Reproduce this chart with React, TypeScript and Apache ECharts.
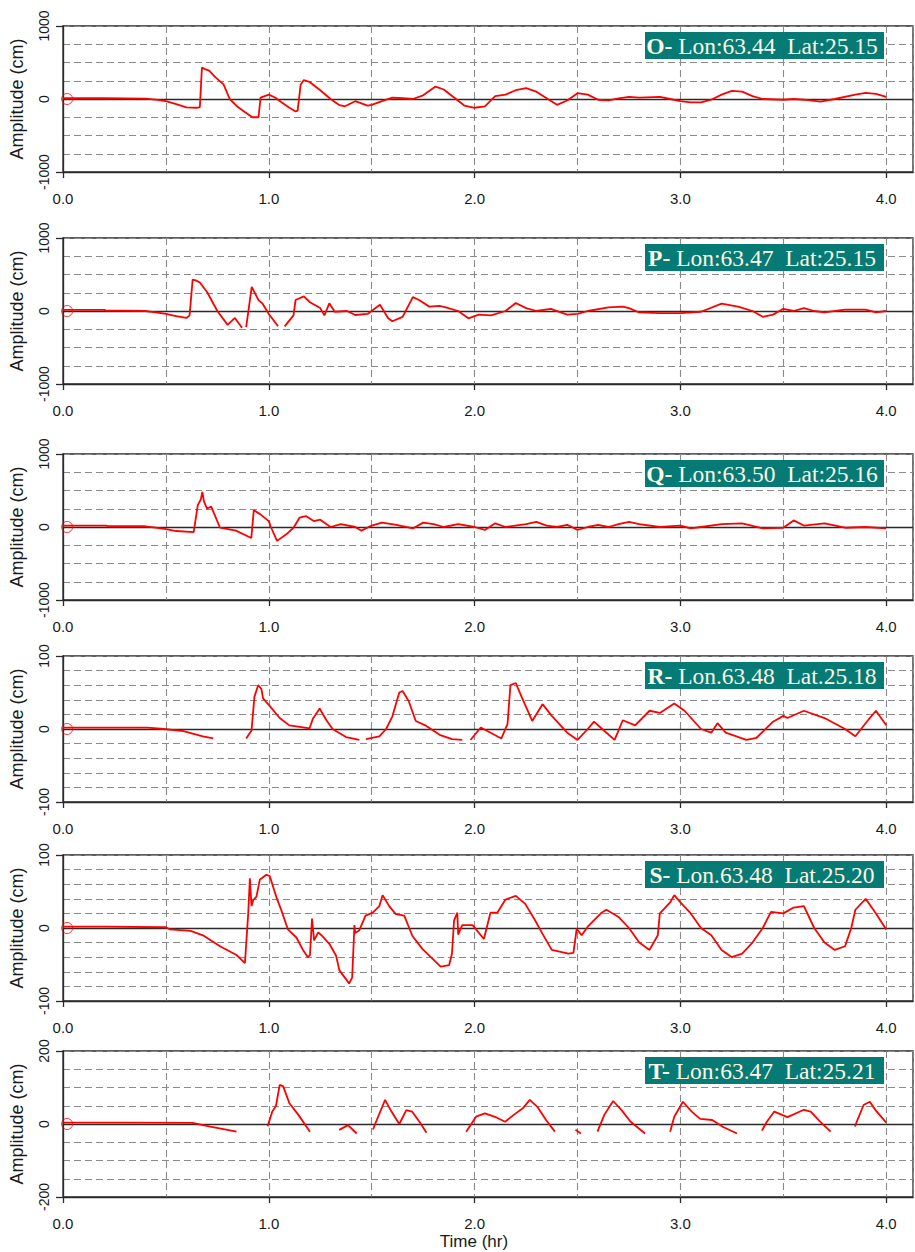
import React, { useEffect, useRef } from "react";
import * as echarts from "echarts";

// ---------- DATA ----------
const X_MIN = 0;
const X_MAX = 4.13;
const X_TICKS = [0, 1, 2, 3, 4];
const STATION_IDS = ["O-", "P-", "Q-", "R-", "S-", "T-"];
const STATION_TEXT = [
  " Lon:63.44  Lat:25.15",
  " Lon:63.47  Lat:25.15",
  " Lon:63.50  Lat:25.16",
  " Lon.63.48  Lat.25.18",
  " Lon.63.48  Lat.25.20",
  " Lon:63.47  Lat:25.21",
];
const Y_LIMITS = [1000, 1000, 1000, 100, 100, 200];
const Y_STEPS = [250, 250, 250, 20, 20, 50];
const START_MARK: [number, number] = [0.02, 0];

type Pt = [number, number];

const O_SEGMENTS: Pt[][] = [
  [
    [0, 10], [0.1, 12], [0.2, 10], [0.3, 8], [0.4, 5], [0.45, -10], [0.5, -30], [0.55, -70], [0.6, -115],
    [0.65, -120], [0.665, -110], [0.675, 430], [0.69, 410], [0.71, 390], [0.74, 300], [0.78, 200], [0.81, 0],
    [0.85, -110], [0.88, -170], [0.92, -250], [0.95, -250], [0.96, 20], [0.97, 30], [1.0, 60], [1.03, 20],
    [1.06, -40], [1.1, -120], [1.13, -170], [1.14, -160], [1.155, 200], [1.17, 260], [1.2, 230], [1.25, 120],
    [1.3, 0], [1.34, -80], [1.37, -100], [1.42, -30], [1.45, -60], [1.48, -90], [1.5, -80], [1.55, -30],
    [1.6, 20], [1.65, 10], [1.7, 0], [1.75, 50], [1.81, 170], [1.85, 130], [1.9, 20], [1.95, -90], [2.0, -120],
    [2.05, -100], [2.1, 40], [2.15, 60], [2.2, 120], [2.25, 150], [2.3, 100], [2.35, 10], [2.4, -80],
    [2.45, -20], [2.5, 80], [2.55, 60], [2.6, -10], [2.65, -20], [2.7, 10], [2.75, 30], [2.8, 20], [2.9, 30],
    [2.95, 0], [3.0, -30], [3.05, -45], [3.1, -45], [3.15, -10], [3.2, 60], [3.25, 110], [3.3, 100],
    [3.35, 40], [3.4, 0], [3.5, -10], [3.55, 0], [3.6, -10], [3.68, -35], [3.75, 0], [3.85, 60], [3.9, 85],
    [3.95, 70], [4.0, 30],
  ],
];

const P_SEGMENTS: Pt[][] = [
  [
    [0, 15], [0.1, 15], [0.2, 15], [0.21, 5], [0.3, 5], [0.4, 0], [0.45, -20], [0.5, -40], [0.55, -70],
    [0.6, -95], [0.615, -60], [0.63, 430], [0.645, 420], [0.665, 390], [0.7, 260], [0.75, 0], [0.8, -190],
    [0.835, -95], [0.87, -230],
  ],
  [[0.89, -220], [0.917, 330], [0.95, 150], [0.97, 100], [1.0, -40], [1.045, -210]],
  [
    [1.077, -210], [1.12, -60], [1.13, 150], [1.17, 200], [1.2, 120], [1.25, 40], [1.27, -60], [1.294, 105],
    [1.32, -10], [1.38, 0], [1.42, -55], [1.48, -40], [1.54, 85], [1.58, -100], [1.6, -140], [1.65, -80],
    [1.7, 190], [1.73, 150], [1.78, 60], [1.83, 70], [1.86, 50], [1.92, 0], [1.97, -100], [2.02, -50],
    [2.08, -60], [2.15, 0], [2.2, 110], [2.25, 40], [2.3, 0], [2.37, 30], [2.45, -50], [2.5, -40], [2.55, 0],
    [2.65, 50], [2.72, 60], [2.75, 40], [2.8, -20], [2.9, -30], [3.0, -30], [3.1, -10], [3.2, 100],
    [3.28, 60], [3.35, 0], [3.4, -80], [3.45, -50], [3.5, 30], [3.55, 0], [3.6, 40], [3.65, 0], [3.7, -20],
    [3.8, 20], [3.9, 20], [3.95, -20], [4.0, 0],
  ],
];

const Q_SEGMENTS: Pt[][] = [
  [
    [0, 20], [0.1, 20], [0.21, 20], [0.22, 10], [0.4, 10], [0.45, -10], [0.5, -30], [0.55, -55], [0.635, -70],
    [0.655, 300], [0.67, 380], [0.677, 480], [0.685, 350], [0.7, 250], [0.72, 280], [0.763, -10], [0.84, -50],
    [0.915, -150], [0.927, 230], [0.956, 180], [1.0, 80], [1.01, 0], [1.04, -190], [1.085, -100], [1.12, -10],
    [1.15, 130], [1.18, 150], [1.22, 80], [1.25, 100], [1.3, 0], [1.35, 40], [1.42, 0], [1.45, -50], [1.5, 20],
    [1.55, 60], [1.62, 30], [1.7, -20], [1.75, 60], [1.8, 40], [1.85, 0], [1.92, 40], [2.0, 0], [2.05, -40],
    [2.1, 50], [2.15, 0], [2.25, 40], [2.3, 70], [2.35, 20], [2.4, 0], [2.45, 30], [2.5, -40], [2.55, 0],
    [2.6, 30], [2.65, 0], [2.7, 40], [2.75, 70], [2.8, 40], [2.9, 0], [3.0, 20], [3.05, -20], [3.1, 0],
    [3.2, 40], [3.3, 50], [3.4, -20], [3.5, -10], [3.55, 90], [3.6, 20], [3.7, 50], [3.8, -10], [3.9, 0],
    [4.0, -20],
  ],
];

const R_SEGMENTS: Pt[][] = [
  [[0, 2], [0.2, 2], [0.41, 2], [0.49, 0], [0.585, -3], [0.68, -10], [0.73, -13]],
  [
    [0.89, -13], [0.916, -2], [0.93, 44], [0.948, 60], [0.964, 55], [0.972, 42], [1.0, 33], [1.053, 15],
    [1.1, 5], [1.15, 3], [1.198, 1], [1.214, 14], [1.247, 28], [1.28, 12], [1.31, 0], [1.375, -11], [1.44, -15],
  ],
  [
    [1.472, -14], [1.537, -10], [1.57, 0], [1.6, 17], [1.634, 50], [1.65, 52], [1.68, 38], [1.714, 11],
    [1.76, 5], [1.83, -8], [1.89, -14], [1.94, -15],
  ],
  [
    [1.98, -15], [2.03, 2], [2.13, -13], [2.16, 7], [2.174, 60], [2.2, 63], [2.23, 43], [2.28, 11], [2.33, 34],
    [2.375, 18], [2.45, -5], [2.5, -15], [2.55, 0], [2.58, 10], [2.62, 0], [2.68, -15], [2.72, 12], [2.78, 5],
    [2.85, 25], [2.9, 22], [2.97, 35], [3.02, 25], [3.1, 0], [3.15, -5], [3.18, 8], [3.22, -5], [3.32, -15],
    [3.37, -12], [3.45, 10], [3.5, 18], [3.52, 15], [3.6, 25], [3.7, 15], [3.8, 0], [3.85, -10], [3.92, 15],
    [3.95, 25], [4.0, 5],
  ],
];

const S_SEGMENTS: Pt[][] = [
  [
    [0, 2], [0.2, 2], [0.5, 1], [0.52, -2], [0.62, -4], [0.68, -10], [0.763, -25], [0.843, -37], [0.884, -48],
    [0.9, 20], [0.908, 68], [0.916, 30], [0.924, 38], [0.94, 43], [0.956, 66], [0.988, 73], [1.005, 71],
    [1.037, 42], [1.06, 25], [1.093, -2], [1.134, -13], [1.166, -30], [1.19, -40], [1.2, -37], [1.21, 13],
    [1.22, -17], [1.24, -6], [1.26, -11], [1.295, -22], [1.327, -38], [1.343, -58], [1.375, -70], [1.39, -76],
    [1.405, -68], [1.416, 4], [1.42, -7], [1.44, -3], [1.47, 17], [1.505, 21], [1.537, 30], [1.553, 45],
    [1.585, 30], [1.617, 19], [1.658, 17], [1.698, -11], [1.747, -29], [1.795, -42], [1.835, -53], [1.876, -51],
    [1.89, -35], [1.9, 10], [1.916, 21], [1.92, -9], [1.94, 4], [1.99, 4], [2.045, -15], [2.077, 21], [2.11, 21],
    [2.15, 39], [2.2, 44], [2.246, 33], [2.295, 10], [2.33, -8], [2.375, -30], [2.456, -35], [2.48, -34],
    [2.496, -1], [2.52, -10], [2.553, 3], [2.617, 21], [2.64, 25], [2.7, 15], [2.75, 0], [2.8, -20], [2.85, -30],
    [2.89, -10], [2.9, 20], [2.95, 35], [2.97, 45], [3.0, 35], [3.05, 20], [3.1, 0], [3.15, -10], [3.2, -30],
    [3.25, -40], [3.3, -35], [3.35, -20], [3.4, 0], [3.44, 22], [3.5, 20], [3.55, 28], [3.6, 30], [3.65, 0],
    [3.7, -20], [3.75, -30], [3.8, -25], [3.83, 0], [3.85, 25], [3.9, 40], [3.95, 20], [4.0, -2],
  ],
];

const T_SEGMENTS: Pt[][] = [
  [[0, 4], [0.3, 4], [0.63, 3], [0.715, -7], [0.78, -14], [0.843, -21]],
  [[0.994, -6], [1.017, 34], [1.035, 50], [1.053, 107], [1.07, 103], [1.1, 57], [1.144, 25], [1.2, -21]],
  [[1.342, -16], [1.385, -3], [1.427, -26]],
  [
    [1.506, -15], [1.526, 13], [1.565, 66], [1.596, 34], [1.634, 0], [1.668, 38], [1.696, 34], [1.737, 2],
    [1.766, -24],
  ],
  [
    [1.959, -21], [2.007, 20], [2.05, 29], [2.106, 18], [2.148, 6], [2.19, 25], [2.234, 43], [2.268, 66],
    [2.305, 47], [2.347, 11], [2.39, -21],
  ],
  [[2.49, -16], [2.516, -26]],
  [[2.597, -21], [2.63, 25], [2.673, 63], [2.714, 38], [2.758, 6], [2.828, -26]],
  [
    [2.95, -21], [2.97, 20], [3.012, 61], [3.055, 34], [3.096, 14], [3.154, 11], [3.21, -9], [3.275, -26],
  ],
  [
    [3.396, -18], [3.42, 6], [3.456, 34], [3.52, 19], [3.6, 39], [3.633, 34], [3.68, 6], [3.73, -21],
  ],
  [[3.848, -7], [3.86, 11], [3.89, 52], [3.92, 61], [3.948, 38], [4.0, 4]],
];

const ALL_SEGMENTS = [O_SEGMENTS, P_SEGMENTS, Q_SEGMENTS, R_SEGMENTS, S_SEGMENTS, T_SEGMENTS];

// ---------- LAYOUT ----------
const GRID_TOPS = [26, 238, 454, 656, 855, 1051];
const GRID_HEIGHT = 146;
const GRID_LEFT = 59;
const GRID_RIGHT = 2;
const AXIS_COLOR = "#2a2a2a";
const GRID_COLOR = "#8a8a8a";
const TEXT_COLOR = "#1a1a1a";
const RED = "#ff0000";
const TEAL = "#067a74";
const SANS = "Liberation Sans, Arial, sans-serif";
const SERIF = "Liberation Serif, Times New Roman, serif";
const DASH = [7, 4];

function buildOption() {
  const grids: any[] = [];
  const xAxes: any[] = [];
  const yAxes: any[] = [];
  const series: any[] = [];
  const graphics: any[] = [];

  ALL_SEGMENTS.forEach((segments, i) => {
    const lim = Y_LIMITS[i];
    const isLast = i === ALL_SEGMENTS.length - 1;
    grids.push({
      left: GRID_LEFT,
      right: GRID_RIGHT,
      top: GRID_TOPS[i],
      height: GRID_HEIGHT,
      show: true,
      borderColor: AXIS_COLOR,
      borderWidth: 1.3,
      backgroundColor: "transparent",
    });
    xAxes.push({
      gridIndex: i,
      type: "value",
      position: "bottom",
      min: X_MIN,
      max: X_MAX,
      interval: 0.5,
      axisLine: { show: false },
      axisTick: { show: false },
      axisLabel: { show: false },
      splitLine: { show: true, lineStyle: { color: GRID_COLOR, type: DASH, width: 1.1 } },
    });
    xAxes.push({
      gridIndex: i,
      type: "value",
      position: "bottom",
      min: X_MIN,
      max: X_MAX,
      interval: 1,
      axisLine: { show: true, onZero: false, lineStyle: { color: AXIS_COLOR, width: 1.3 } },
      axisTick: { show: true, length: 6, customValues: X_TICKS, lineStyle: { color: AXIS_COLOR, width: 1.3 } },
      axisLabel: {
        customValues: X_TICKS,
        formatter: (v: number) => v.toFixed(1),
        fontSize: 15,
        color: TEXT_COLOR,
        fontFamily: SANS,
        margin: 19,
      },
      splitLine: { show: false },
    });
    yAxes.push({
      gridIndex: i,
      type: "value",
      position: "left",
      min: -lim,
      max: lim,
      interval: Y_STEPS[i],
      axisLine: { show: false },
      axisTick: { show: false },
      axisLabel: { show: false },
      splitLine: { show: true, lineStyle: { color: GRID_COLOR, type: DASH, width: 1.1 } },
    });
    yAxes.push({
      gridIndex: i,
      type: "value",
      position: "left",
      min: -lim,
      max: lim,
      interval: lim,
      axisLine: { show: true, onZero: false, lineStyle: { color: AXIS_COLOR, width: 1.3 } },
      axisTick: { show: true, length: 7, customValues: [-lim, lim], lineStyle: { color: AXIS_COLOR, width: 1.3 } },
      axisLabel: {
        rotate: 90,
        fontSize: 14,
        color: TEXT_COLOR,
        fontFamily: SANS,
        margin: 12,
        formatter: (v: number) => String(v),
      },
      splitLine: { show: false },
      name: "Amplitude (cm)",
      nameLocation: "middle",
      nameRotate: 90,
      nameGap: 37,
      nameTextStyle: { fontSize: 18, color: TEXT_COLOR, fontFamily: SANS },
    });

    const xi = 2 * i + 1;
    const yi = 2 * i + 1;
    segments.forEach((seg) => {
      series.push({
        type: "line",
        xAxisIndex: xi,
        yAxisIndex: yi,
        data: seg,
        showSymbol: false,
        symbol: "none",
        smooth: false,
        z: 3,
        lineStyle: { color: RED, width: 1.8 },
        silent: true,
      });
    });
    series.push({
      type: "scatter",
      xAxisIndex: xi,
      yAxisIndex: yi,
      data: [START_MARK],
      symbol: "circle",
      symbolSize: 11,
      z: 4,
      itemStyle: { color: "rgba(255,255,255,0)", borderColor: RED, borderWidth: 1 },
      silent: true,
      markLine: {
        silent: true,
        z: 1,
        symbol: "none",
        label: { show: false },
        lineStyle: { color: AXIS_COLOR, type: "solid", width: 1.3 },
        data: [{ yAxis: 0 }],
      },
    });

    const boxTop = GRID_TOPS[i] + 6;
    graphics.push({
      type: "group",
      children: [
        {
          type: "rect",
          shape: { x: 645, y: boxTop, width: 239, height: 27 },
          style: { fill: TEAL },
          z: 10,
        },
        {
          type: "text",
          x: 762,
          y: boxTop + 14,
          z: 11,
          style: {
            text: "{b|" + STATION_IDS[i] + "}" + STATION_TEXT[i],
            align: "center",
            verticalAlign: "middle",
            fill: "#fdf8e4",
            fontSize: 23.5,
            fontFamily: SERIF,
            rich: {
              b: { fontWeight: "bold", fontSize: 23.5, fontFamily: SERIF, fill: "#fdf8e4" },
            },
          },
        },
      ],
    });
    if (isLast) {
      graphics.push({
        type: "text",
        x: 474,
        y: GRID_TOPS[i] + GRID_HEIGHT + 44,
        style: {
          text: "Time (hr)",
          align: "center",
          verticalAlign: "middle",
          fill: TEXT_COLOR,
          fontSize: 17,
          fontFamily: SANS,
        },
      });
    }
  });

  return {
    animation: false,
    backgroundColor: "#ffffff",
    grid: grids,
    xAxis: xAxes,
    yAxis: yAxes,
    series,
    graphic: graphics,
  };
}

export default function App() {
  const ref = useRef<HTMLDivElement | null>(null);
  useEffect(() => {
    document.body.style.margin = "0";
    if (!ref.current) return;
    const chart = echarts.init(ref.current, undefined, { renderer: "svg" });
    chart.setOption(buildOption() as any);
    return () => chart.dispose();
  }, []);
  return <div ref={ref} style={{ width: 915, height: 1252 }} />;
}
